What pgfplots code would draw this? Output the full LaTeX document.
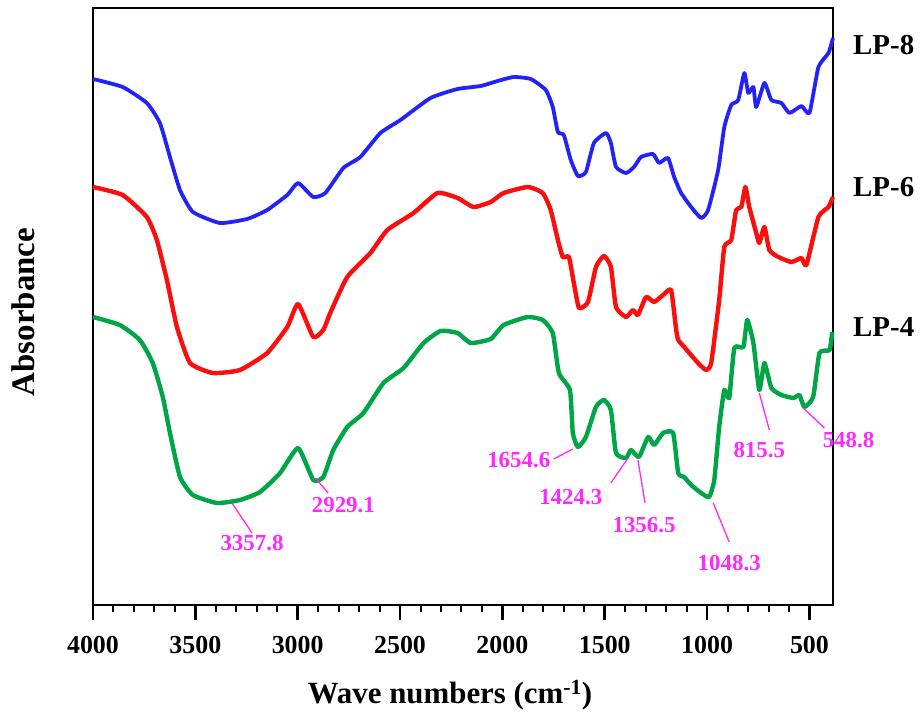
\documentclass[border=0pt]{standalone}
\usepackage{pgfplots}
\pgfplotsset{compat=1.18}
\usepackage{fontspec}
\setmainfont{Liberation Serif}
\definecolor{cblue}{RGB}{35,35,245}
\definecolor{cred}{RGB}{250,15,15}
\definecolor{cgreen}{RGB}{0,165,70}
\definecolor{cmag}{RGB}{255,40,255}
\tikzset{
  ann/.style={draw=cmag, line width=1.3bp},
  annt/.style={text=cmag, font=\bfseries\fontsize{23}{27}\selectfont, inner sep=0pt},
  lp/.style={font=\bfseries\fontsize{29}{33}\selectfont, inner sep=0pt, anchor=west},
}
\begin{document}
\begin{tikzpicture}
\begin{axis}[
  scale only axis, width=740bp, height=597bp,
  xmin=385, xmax=4000, ymin=0, ymax=597, x dir=reverse,
  clip=false,
  axis line style={line width=2.5bp},
  xtick={500,1000,1500,2000,2500,3000,3500,4000},
  minor x tick num=4, ytick=\empty,
  xtick pos=left, tick align=outside,
  major tick length=15bp, minor tick length=7bp,
  major tick style={line width=2.7bp,black},
  minor tick style={line width=2bp,black},
  xticklabel style={font=\bfseries\fontsize{26}{30}\selectfont, yshift=-13bp},
  /pgf/number format/1000 sep={}, /pgf/number format/assume math mode=true,
  every axis plot/.append style={smooth, tension=0.3, line join=round},
]
\coordinate (BL) at (axis description cs:0,0);
\coordinate (TR) at (axis description cs:1,1);
% LP-8
\addplot[cblue, line width=3.8bp] coordinates {
(4000,526)(3855,518)(3737,502)(3673,482)(3624,448)(3575,415)(3512,393)(3380,382)
(3247,386)(3149,395)(3051,410)(2998,422)(2924,408)(2865,412)(2777,437)(2694,448)
(2596,472)(2498,485)(2351,507)(2219,516)(2106,519)(2023,524)(1945,528)(1861,526)
(1788,515)(1754,498)(1729,473)(1700,470)(1666,445)(1631,429)(1592,433)(1553,462)
(1494,472)(1470,462)(1445,438)(1396,432)(1357,438)(1323,448)(1264,451)(1235,442)
(1191,447)(1161,428)(1127,412)(1078,398)(1029,387)(995,395)(946,435)(916,478)
(882,500)(848,505)(818,532)(799,512)(774,518)(760,498)(720,522)(686,505)
(637,502)(598,492)(539,499)(500,492)(456,538)(407,552)(385,567)
};
% LP-6
\addplot[cred, line width=4.4bp] coordinates {
(4000,418)(3855,410)(3737,388)(3688,365)(3639,325)(3590,278)(3526,242)(3414,232)
(3282,235)(3149,252)(3051,278)(2998,301)(2924,268)(2875,275)(2841,292)(2758,328)
(2645,352)(2562,375)(2434,392)(2317,412)(2219,407)(2141,398)(2057,403)(1994,412)
(1876,418)(1803,412)(1764,395)(1729,365)(1705,348)(1675,348)(1651,322)(1626,297)
(1582,303)(1543,338)(1504,349)(1470,338)(1445,298)(1396,288)(1362,295)(1338,290)
(1298,308)(1259,303)(1215,310)(1176,315)(1151,275)(1141,265)(1112,258)(1044,242)
(1005,235)(980,242)(941,305)(916,358)(882,365)(858,395)(833,398)(813,418)
(794,398)(760,372)(745,362)(720,378)(696,355)(652,348)(588,343)(539,347)
(515,340)(456,388)(407,398)(385,408)
};
% LP-4
\addplot[cgreen, line width=4.4bp] coordinates {
(4000,288)(3869,280)(3771,265)(3708,242)(3659,208)(3624,172)(3575,128)(3512,110)
(3394,102)(3282,105)(3184,113)(3086,132)(2998,157)(2924,125)(2875,128)(2826,155)
(2758,178)(2679,192)(2581,222)(2483,237)(2385,262)(2302,274)(2219,272)(2155,262)
(2057,266)(1994,280)(1876,288)(1803,285)(1754,272)(1724,232)(1670,215)(1656,172)
(1631,158)(1592,168)(1543,198)(1504,205)(1470,195)(1445,152)(1396,147)(1372,155)
(1333,148)(1288,168)(1259,160)(1215,172)(1166,172)(1141,132)(1112,128)(1078,120)
(1029,112)(990,108)(965,125)(941,178)(916,215)(892,207)(867,257)(823,258)
(804,285)(774,262)(745,215)(720,242)(686,217)(637,210)(578,207)(549,210)
(525,198)(482,208)(451,252)(402,255)(389,273)
};
% annotations
\draw[ann] (axis cs:3321,102) -- (axis cs:3223,72);
\node[annt, anchor=north] at (axis cs:3223,70) {3357.8};
\draw[ann] (axis cs:2914,127) -- (axis cs:2851,112);
\node[annt] at (axis cs:2777,100) {2929.1};
\draw[ann] (axis cs:1749,146) -- (axis cs:1656,156);
\node[annt] at (axis cs:1920,145) {1654.6};
\draw[ann] (axis cs:1470,122) -- (axis cs:1386,147);
\node[annt] at (axis cs:1666,108) {1424.3};
\draw[ann] (axis cs:1338,145) -- (axis cs:1303,102);
\node[annt] at (axis cs:1308,80) {1356.5};
\draw[ann] (axis cs:970,102) -- (axis cs:892,63);
\node[annt] at (axis cs:892,42) {1048.3};
\draw[ann] (axis cs:745,212) -- (axis cs:696,175);
\node[annt] at (axis cs:745,155) {815.5};
\draw[ann] (axis cs:530,197) -- (axis cs:427,177);
\node[annt] at (axis cs:309,165) {548.8};
\end{axis}
% curve labels
\node[lp] at ([shift={(760bp,560bp)}]BL) {LP-8};
\node[lp] at ([shift={(760bp,418bp)}]BL) {LP-6};
\node[lp] at ([shift={(760bp,278bp)}]BL) {LP-4};
% axis titles
\node[anchor=base, font=\bfseries\fontsize{31}{36}\selectfont, inner sep=0pt] at ([shift={(357bp,-98bp)}]BL) {Wave numbers (cm\textsuperscript{-1})};
\node[rotate=90, anchor=base, font=\bfseries\fontsize{33}{38}\selectfont, inner sep=0pt] at ([shift={(-58bp,293bp)}]BL) {Absorbance};
\pgfresetboundingbox
\path[use as bounding box] ([shift={(-93bp,-110bp)}]BL) rectangle ([shift={(90bp,8bp)}]TR);
\end{tikzpicture}
\end{document}
